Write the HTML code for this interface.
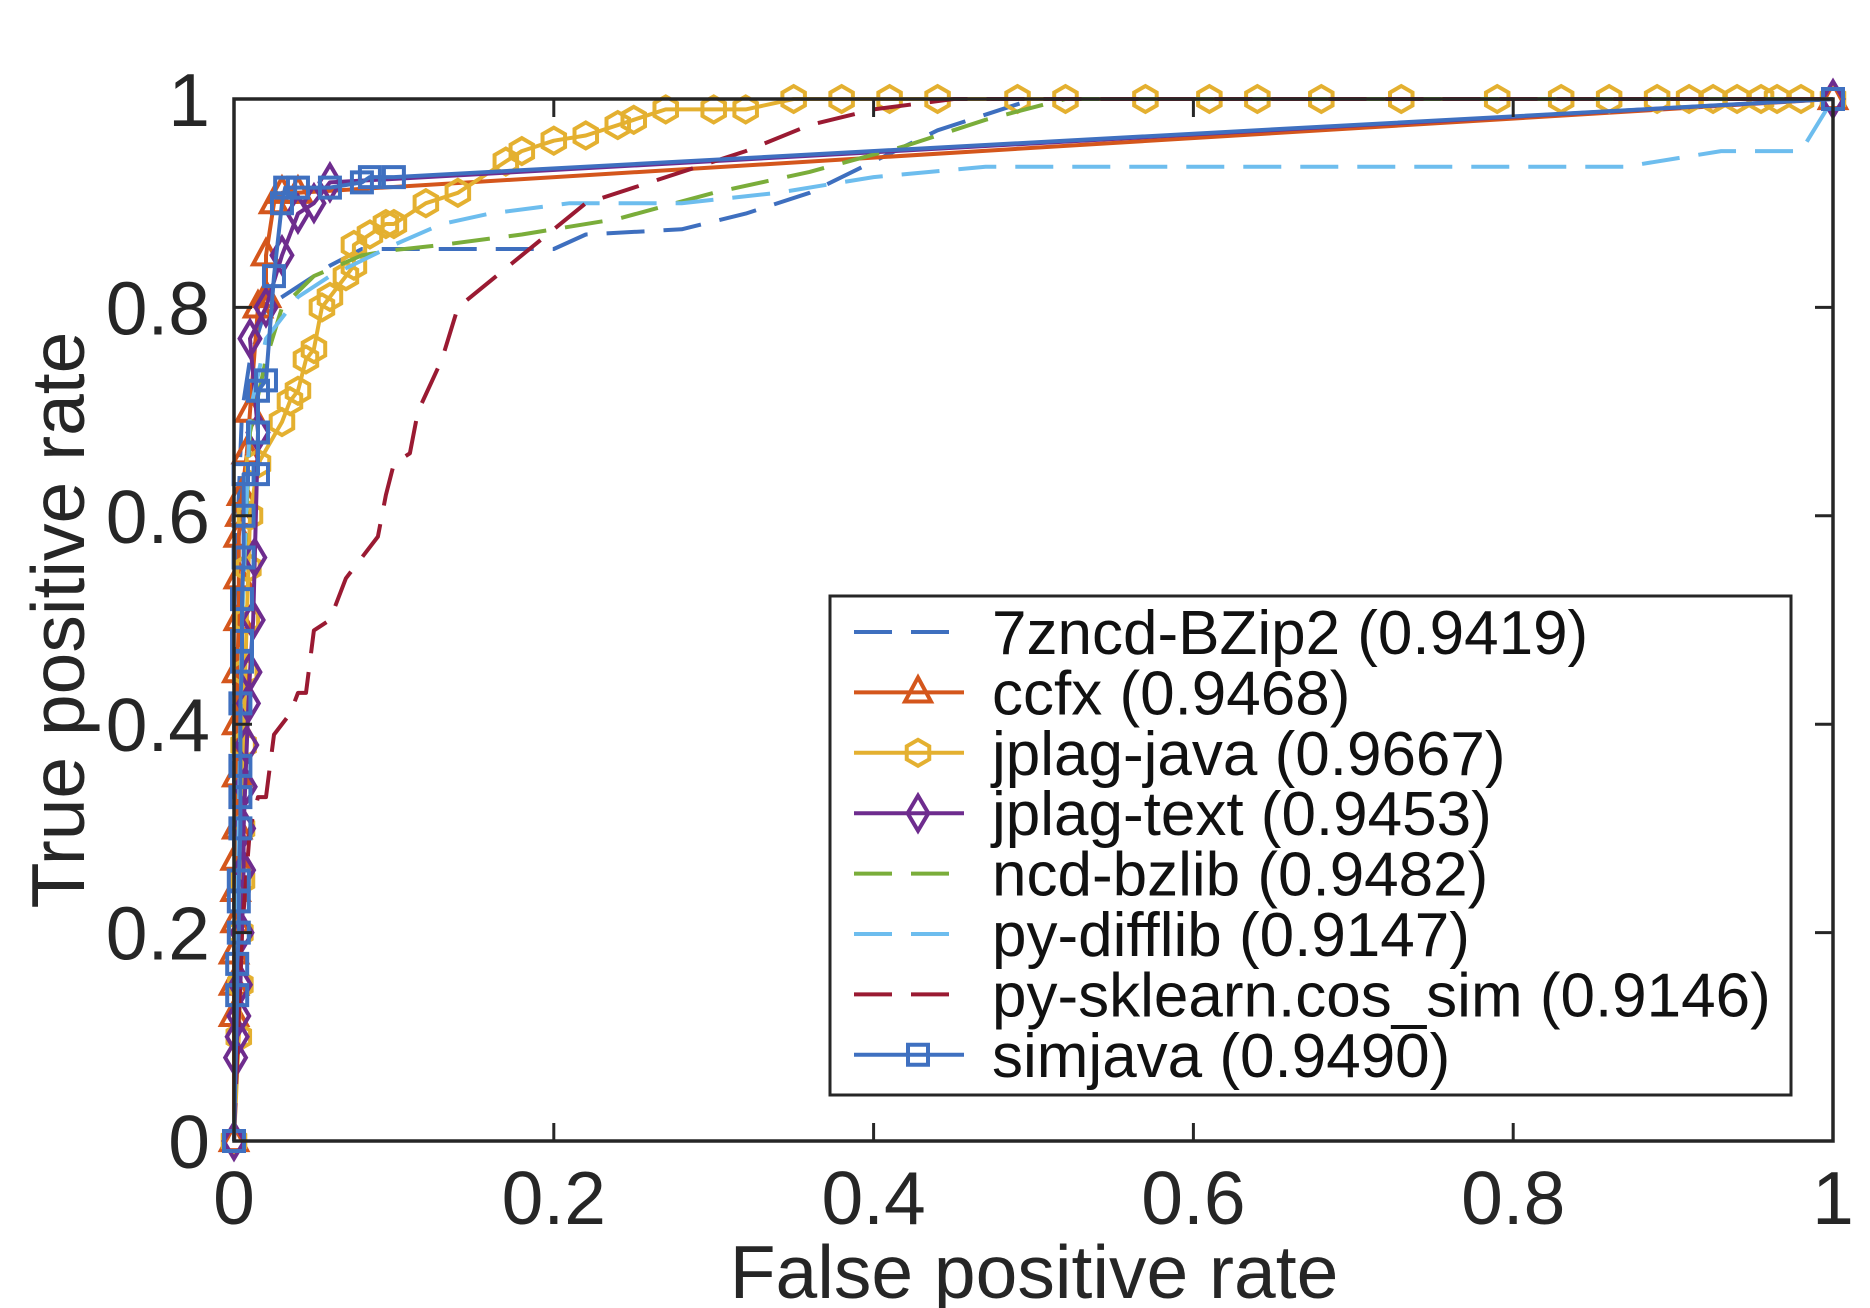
<!DOCTYPE html>
<html><head><meta charset="utf-8"><style>
html,body{margin:0;padding:0;background:#fff;}
svg{display:block;font-family:"Liberation Sans",Arial,sans-serif;}
</style></head><body>
<svg id="chart" width="1870" height="1308" viewBox="0 0 1870 1308" xmlns="http://www.w3.org/2000/svg">
<g id="plot"></g>
</svg>
<script>
const xTicks = [0, 0.2, 0.4, 0.6, 0.8, 1];
const yTicks = [0, 0.2, 0.4, 0.6, 0.8, 1];
const xTickLabels = ["0", "0.2", "0.4", "0.6", "0.8", "1"];
const yTickLabels = ["0", "0.2", "0.4", "0.6", "0.8", "1"];
const seriesNames = ["7zncd-BZip2 (0.9419)", "ccfx (0.9468)", "jplag-java (0.9667)", "jplag-text (0.9453)", "ncd-bzlib (0.9482)", "py-difflib (0.9147)", "py-sklearn.cos_sim (0.9146)", "simjava (0.9490)"];
const bzipFpr = [0,0,0.005,0.01,0.02,0.04,0.06,0.08,0.1,0.2,0.22,0.28,0.32,0.36,0.4,0.44,0.5,1];
const bzipTpr = [0,0.5,0.7,0.75,0.8,0.82,0.84,0.856,0.856,0.856,0.87,0.875,0.89,0.91,0.94,0.97,1,1];
const ccfxFpr = [0,0,0,0,0.001,0.001,0.001,0.002,0.002,0.002,0.002,0.003,0.003,0.003,0.004,0.005,0.008,0.01,0.015,0.02,0.02,0.025,0.03,0.04,1];
const ccfxTpr = [0,0.12,0.15,0.18,0.21,0.24,0.27,0.3,0.35,0.4,0.45,0.5,0.54,0.58,0.6,0.62,0.66,0.7,0.8,0.81,0.85,0.9,0.91,0.91,1];
const javaFpr = [0,0.003,0.004,0.004,0.005,0.005,0.006,0.007,0.008,0.009,0.01,0.015,0.03,0.035,0.04,0.045,0.05,0.055,0.06,0.07,0.075,0.075,0.085,0.095,0.1,0.12,0.14,0.17,0.18,0.2,0.22,0.24,0.25,0.27,0.3,0.32,0.35,0.38,0.41,0.44,0.49,0.52,0.57,0.61,0.64,0.68,0.73,0.79,0.83,0.86,0.89,0.91,0.925,0.94,0.955,0.965,0.98,1];
const javaTpr = [0,0.1,0.15,0.2,0.25,0.3,0.38,0.45,0.5,0.55,0.6,0.65,0.69,0.71,0.72,0.75,0.76,0.8,0.81,0.83,0.84,0.86,0.87,0.88,0.88,0.9,0.91,0.94,0.95,0.96,0.965,0.975,0.98,0.99,0.99,0.99,1,1,1,1,1,1,1,1,1,1,1,1,1,1,1,1,1,1,1,1,1,1];
const textFpr = [0,0.001,0.002,0.003,0.004,0.005,0.006,0.006,0.007,0.008,0.009,0.01,0.012,0.013,0.015,0.01,0.02,0.03,0.04,0.05,0.06,1];
const textTpr = [0,0.08,0.1,0.12,0.15,0.2,0.26,0.3,0.34,0.38,0.42,0.45,0.5,0.56,0.68,0.77,0.8,0.85,0.89,0.9,0.92,1];
const bzlibFpr = [0,0.005,0.01,0.02,0.03,0.05,0.08,0.1,0.13,0.18,0.24,0.3,0.36,0.42,0.47,0.52,1];
const bzlibTpr = [0,0.5,0.68,0.75,0.8,0.83,0.85,0.855,0.86,0.87,0.885,0.91,0.93,0.955,0.98,1,1];
const difflibFpr = [0,0.005,0.01,0.02,0.04,0.06,0.1,0.13,0.16,0.21,0.28,0.34,0.4,0.47,0.6,0.87,0.93,0.98,1];
const difflibTpr = [0,0.5,0.7,0.77,0.81,0.83,0.86,0.88,0.89,0.9,0.9,0.91,0.925,0.935,0.935,0.935,0.95,0.95,1];
const sklearnFpr = [0,0.005,0.01,0.015,0.02,0.025,0.035,0.04,0.045,0.05,0.06,0.07,0.09,0.095,0.1,0.11,0.115,0.13,0.14,0.18,0.22,0.26,0.32,0.36,0.4,0.45,1];
const sklearnTpr = [0,0.2,0.3,0.33,0.33,0.39,0.41,0.43,0.43,0.49,0.5,0.54,0.58,0.62,0.65,0.66,0.7,0.75,0.8,0.85,0.9,0.92,0.95,0.975,0.99,1,1];
const simFpr = [0,0.002,0.002,0.003,0.003,0.003,0.004,0.004,0.004,0.004,0.005,0.005,0.005,0.006,0.006,0.006,0.015,0.015,0.015,0.02,0.025,0.03,0.032,0.04,0.06,0.08,0.085,0.1,1];
const simTpr = [0,0.14,0.17,0.2,0.23,0.25,0.3,0.33,0.36,0.42,0.46,0.48,0.52,0.56,0.6,0.64,0.64,0.68,0.72,0.73,0.83,0.9,0.915,0.915,0.915,0.92,0.925,0.925,1];

const NS = "http://www.w3.org/2000/svg";
const X0 = 234, X1 = 1833, YB = 1141, YT = 99;
const sx = v => X0 + v * (X1 - X0);
const sy = v => YB - v * (YB - YT);
const svg = document.getElementById('chart');
const plot = document.getElementById('plot');
function mk(tag, attrs, parent) {
  const e = document.createElementNS(NS, tag);
  for (const k in attrs) e.setAttribute(k, attrs[k]);
  (parent || svg).appendChild(e);
  return e;
}
const series = [
  {x: bzipFpr, y: bzipTpr, color: "#3e6fbf", dash: "38 19", marker: null},
  {x: ccfxFpr, y: ccfxTpr, color: "#d4561c", dash: null, marker: "tri"},
  {x: javaFpr, y: javaTpr, color: "#e4b030", dash: null, marker: "hex"},
  {x: textFpr, y: textTpr, color: "#6e2c8e", dash: null, marker: "dia"},
  {x: bzlibFpr, y: bzlibTpr, color: "#7aad3a", dash: "38 19", marker: null},
  {x: difflibFpr, y: difflibTpr, color: "#6dbdee", dash: "38 19", marker: null},
  {x: sklearnFpr, y: sklearnTpr, color: "#9a1a32", dash: "38 19", marker: null},
  {x: simFpr, y: simTpr, color: "#3f70c0", dash: null, marker: "sq"}
];
function marker(type, cx, cy, color, parent) {
  const r = 13;
  let pts;
  if (type === "tri") pts = [[cx, cy - r * 1.15], [cx + r, cy + r * 0.7], [cx - r, cy + r * 0.7]];
  else if (type === "dia") pts = [[cx, cy - r * 1.35], [cx + r * 0.8, cy], [cx, cy + r * 1.35], [cx - r * 0.8, cy]];
  else if (type === "sq") pts = [[cx - 10, cy - 10], [cx + 10, cy - 10], [cx + 10, cy + 10], [cx - 10, cy + 10]];
  else { pts = []; for (let i = 0; i < 6; i++) { const a = Math.PI / 6 + i * Math.PI / 3; pts.push([cx + r * Math.cos(a), cy + r * Math.sin(a)]); } }
  const m = mk('polygon', {points: pts.map(p => p.join(',')).join(' '), fill: 'none', stroke: color, 'stroke-width': 4}, parent);
  
  
}
series.forEach((s, i) => {
  const g = mk('g', {}, plot);
  
  
  const d = s.x.map((v, j) => (j ? 'L' : 'M') + sx(v).toFixed(1) + ',' + sy(s.y[j]).toFixed(1)).join(' ');
  const p = mk('path', {d: d, fill: 'none', stroke: s.color, 'stroke-width': 4, 'stroke-linejoin': 'round'}, g);
  if (s.dash) p.setAttribute('stroke-dasharray', s.dash);
  
  
  if (s.marker) s.x.forEach((v, j) => marker(s.marker, sx(v), sy(s.y[j]), s.color, g));
});
const box = mk('rect', {x: X0, y: YT, width: X1 - X0, height: YB - YT, fill: 'none', stroke: '#262626', 'stroke-width': 3.5});


xTicks.forEach((v, i) => {
  const x = sx(v);
  mk('line', {x1: x, y1: YB, x2: x, y2: YB - 18, stroke: '#262626', 'stroke-width': 3});
  mk('line', {x1: x, y1: YT, x2: x, y2: YT + 18, stroke: '#262626', 'stroke-width': 3});
  const t = mk('text', {x: x, y: 1224, 'text-anchor': 'middle', 'font-size': 75, fill: '#262626'});
  t.textContent = xTickLabels[i];
  
  
});
yTicks.forEach((v, i) => {
  const y = sy(v);
  mk('line', {x1: X0, y1: y, x2: X0 + 18, y2: y, stroke: '#262626', 'stroke-width': 3});
  mk('line', {x1: X1, y1: y, x2: X1 - 18, y2: y, stroke: '#262626', 'stroke-width': 3});
  const t = mk('text', {x: 210, y: y + 27, 'text-anchor': 'end', 'font-size': 75, fill: '#262626'});
  t.textContent = yTickLabels[i];
  
  
});
const xt = mk('text', {x: 1034, y: 1298, 'text-anchor': 'middle', 'font-size': 75, fill: '#262626'});
xt.textContent = 'False positive rate';


const yt = mk('text', {x: 0, y: 0, transform: 'translate(84,620) rotate(-90)', 'text-anchor': 'middle', 'font-size': 75, fill: '#262626'});
yt.textContent = 'True positive rate';


const lg = mk('g', {});


mk('rect', {x: 830, y: 596, width: 961, height: 499, fill: '#fff', stroke: '#262626', 'stroke-width': 3}, lg);
seriesNames.forEach((n, i) => {
  const s = series[i];
  const y = 632 + i * 60.4;
  const e = mk('g', {}, lg);
  
  
  const l = mk('line', {x1: 854, y1: y, x2: 964, y2: y, stroke: s.color, 'stroke-width': 4}, e);
  if (s.dash) l.setAttribute('stroke-dasharray', '38 19');
  if (s.marker) marker(s.marker, 918, y, s.color, e);
  const t = mk('text', {x: 992, y: y + 22, 'font-size': 62, fill: '#111'}, e);
  t.textContent = n;
});
</script>
</body></html>
